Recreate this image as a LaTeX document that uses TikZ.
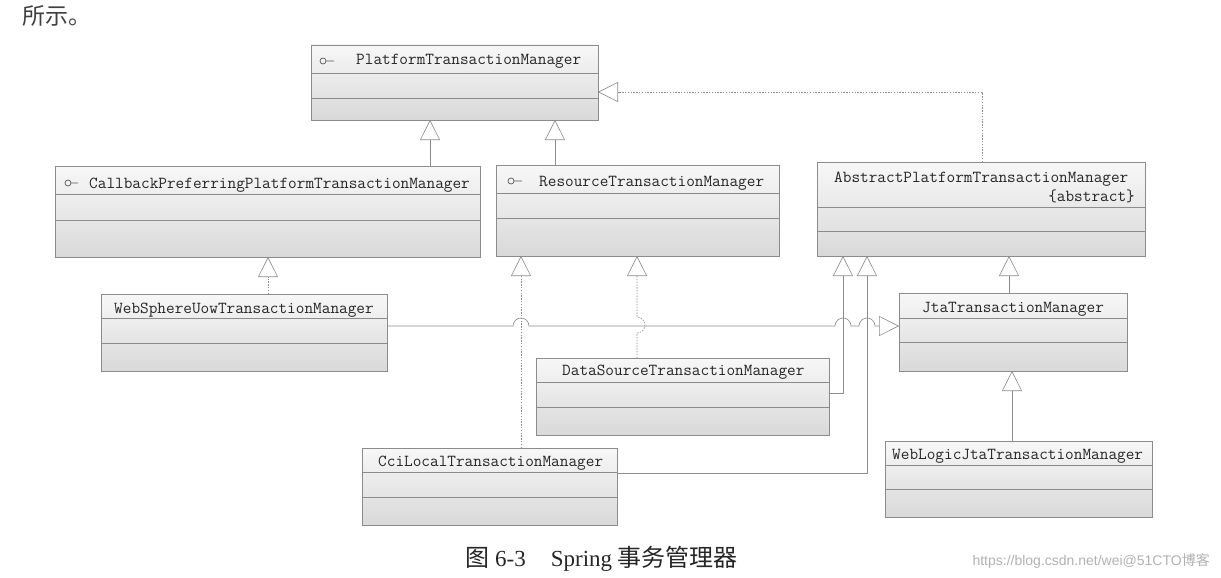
\documentclass[tikz,border=0pt]{standalone}
\usepackage{fontspec}
\newfontfamily\cjk{Noto Sans CJK SC}
\newfontfamily\capserif{Liberation Serif}
\newfontfamily\wmfont{Liberation Sans}
\usetikzlibrary{arrows.meta}
\tikzset{
  clsbox/.style={draw=black!45, line width=0.6pt, top color=black!3, bottom color=black!15, inner sep=0pt, outer sep=0pt},
  divline/.style={draw=black!45, line width=0.6pt},
  lbl/.style={inner sep=0pt, anchor=base west, font=\ttfamily\fontsize{16.8}{18}\selectfont, text=black!85},
  solidln/.style={draw=black!45, line width=0.6pt},
  dotln/.style={draw=black!45, line width=0.6pt, dash pattern=on 1.4pt off 1.4pt},
  gen/.style={-{Triangle[open,length=20pt,width=20pt,line width=0.6pt]}},
  lolli/.style={draw=black!65, line width=0.7pt},
}
\newcommand\umlcls[7]{%
  \node[clsbox, minimum width=#4pt, minimum height=#5pt, anchor=north west] (#1) at (#2,#3) {};
  \draw[divline] (#1.west |- 0,#6) -- (#1.east |- 0,#6);
  \draw[divline] (#1.west |- 0,#7) -- (#1.east |- 0,#7);
}
\begin{document}
\begin{tikzpicture}[x=1pt,y=-1pt]
\useasboundingbox (0,0) rectangle (1221,578);
\fill[white] (0,0) rectangle (1221,578);

% header text
\node[inner sep=0pt, anchor=base west, font=\cjk\fontsize{23}{25}\selectfont, text=black!75] (hdr) at (22,25) {所示。};

% classes
\umlcls{ptm}{311}{45}{287}{75}{73}{98}
\umlcls{cpp}{55}{166}{425}{91}{194}{220}
\umlcls{res}{496}{165}{283}{91}{193}{218}
\umlcls{apt}{817}{162}{328}{94}{207}{231}
\umlcls{ws}{101}{294}{286}{77}{318}{343}
\umlcls{jta}{899}{293}{228}{78}{318}{342}
\umlcls{ds}{536}{358}{293}{77}{382}{407}
\umlcls{cci}{362}{448}{255}{77}{472}{497}
\umlcls{wl}{885}{441}{267}{76}{465}{489}

% labels
\node[lbl] (ptm-t) at (356,65) {PlatformTransactionManager};
\node[lbl] (cpp-t) at (89,188) {CallbackPreferringPlatformTransactionManager};
\node[lbl] (res-t) at (539,186) {ResourceTransactionManager};
\node[lbl] (apt-t) at (834,182) {AbstractPlatformTransactionManager};
\node[lbl, anchor=base east] (apt-a) at (1135,201) {\{abstract\}};
\node[lbl] (ws-t) at (114,313) {WebSphereUowTransactionManager};
\node[lbl] (jta-t) at (922,312) {JtaTransactionManager};
\node[lbl] (ds-t) at (562,375) {DataSourceTransactionManager};
\node[lbl] (cci-t) at (378,466) {CciLocalTransactionManager};
\node[lbl] (wl-t) at (892,459) {WebLogicJtaTransactionManager};

% interface lollipops
\draw[lolli] (323,61) circle[radius=3pt] (326,61) -- (334,61);
\draw[lolli] (68,183) circle[radius=3pt] (71,183) -- (78,183);
\draw[lolli] (511,181) circle[radius=3pt] (514,181) -- (522,181);

% connectors
\draw[dotln, gen] (apt.north -| 982,0) |- (ptm.east |- 0,92);
\draw[solidln, gen] (cpp.north -| 430,0) -- (ptm.south -| 430,0);
\draw[solidln, gen] (res.north -| 555,0) -- (ptm.south -| 555,0);
\draw[dotln, gen] (ws.north -| 268,0) -- (cpp.south -| 268,0);
\draw[dotln, gen] (cci.north -| 521,0) -- (res.south -| 521,0);
\draw[dotln, gen] (ds.north -| 637,0) -- (637,333)
  arc[start angle=-90, end angle=90, radius=8pt] -- (res.south -| 637,0);
\draw[solidln, gen] (ws.east |- 0,326) -- (513,326)
  arc[start angle=180, end angle=0, radius=8pt] -- (835,326)
  arc[start angle=180, end angle=0, radius=8pt] -- (859,326)
  arc[start angle=180, end angle=0, radius=8pt] -- (jta.west |- 0,326);
\draw[solidln, gen] (ds.east |- 0,393) -| (apt.south -| 843,0);
\draw[solidln, gen] (cci.east |- 0,473) -| (apt.south -| 867,0);
\draw[solidln, gen] (jta.north -| 1009,0) -- (apt.south -| 1009,0);
\draw[solidln, gen] (wl.north -| 1012,0) -- (jta.south -| 1012,0);

% caption
\node[inner sep=0pt, anchor=base west, text=black!85] (cap) at (465,566)
  {{\cjk\fontsize{24}{26}\selectfont 图}\hspace{6pt}{\capserif\fontsize{23}{26}\selectfont 6-3\hspace{25pt}Spring}\hspace{5pt}{\cjk\fontsize{24}{26}\selectfont 事务管理器}};

% watermark
\node[inner sep=0pt, anchor=base east, text=black!30, font=\wmfont\fontsize{14}{16}\selectfont] (wm) at (1210,565)
  {https://blog.csdn.net/wei@51CTO{\cjk 博客}};
\end{tikzpicture}
\end{document}
